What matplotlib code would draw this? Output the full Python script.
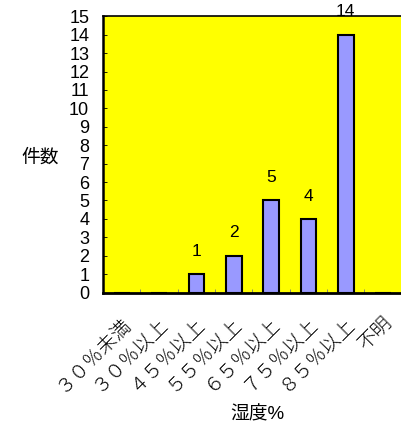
import matplotlib
matplotlib.use('Agg')
import matplotlib.pyplot as plt
from matplotlib.ticker import MultipleLocator, FixedLocator

FONTS = ['Liberation Sans', 'Noto Sans CJK JP', 'DejaVu Sans']
plt.rcParams['font.family'] = FONTS

categories = ['３０％未満', '３０％以上', '４５％以上', '５５％以上',
              '６５％以上', '７５％以上', '８５％以上', '不明']
counts = [0, 0, 1, 2, 5, 4, 14, 0]

YELLOW = '#ffff00'
BAR = '#9999ff'

fig = plt.figure(figsize=(4.01, 4.29), dpi=100)
fig.patch.set_facecolor('white')
ax = fig.add_axes([0.257, 0.318, 0.745, 0.644])
ax.set_facecolor(YELLOW)

x = list(range(len(categories)))
ax.bar(x, counts, width=0.42, color=BAR, edgecolor='black', linewidth=1.5, zorder=2)

for xi, c in zip(x, counts):
    if c > 0:
        ax.annotate(str(c), (xi, c), xytext=(0, 11), textcoords='offset points',
                    ha='center', va='bottom', fontsize=12.5)

ax.set_xlim(-0.5, len(categories) - 0.5)
ax.set_ylim(0, 15)
ax.yaxis.set_major_locator(MultipleLocator(1))
ax.tick_params(axis='y', direction='in', length=3, width=0.6, labelsize=13, pad=10)

ax.set_xticks(x)
ax.set_xticklabels(categories, rotation=45, ha='right', va='top',
                   rotation_mode='anchor', fontsize=14, fontweight='light')
ax.tick_params(axis='x', which='major', length=0, pad=16)
ax.xaxis.set_minor_locator(FixedLocator([i + 0.5 for i in range(len(categories))]))
ax.tick_params(axis='x', which='minor', direction='in', length=3, width=0.6, color='#777777')

for s in ax.spines.values():
    s.set_color('black')
    s.set_zorder(3)
ax.spines['left'].set_linewidth(1.8)
ax.spines['bottom'].set_linewidth(2.0)
ax.spines['top'].set_linewidth(1.2)

fig.text(0.10, 0.632, '件数', ha='center', va='center', fontsize=13.5)
fig.text(0.643, 0.033, '湿度%', ha='center', va='center', fontsize=13.5)

fig.savefig('out.png', dpi=100, facecolor='white')
plt.close(fig)
